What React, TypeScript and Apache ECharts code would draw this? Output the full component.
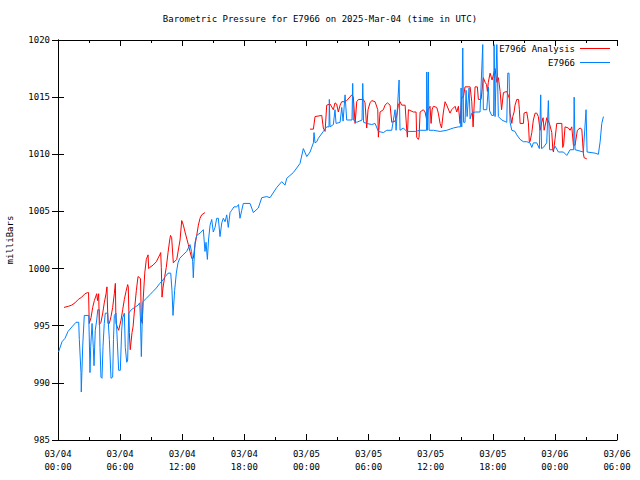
import React, { useEffect, useRef } from "react";
import * as echarts from "echarts";

// hours since 2025-03-04 00:00 UTC
const blueHours = [
  0.05, 0.39, 0.68, 0.97, 1.35, 1.74, 2.0, 2.06, 2.22, 2.25, 2.39, 2.54, 2.97, 3.02, 3.09, 3.16, 3.29, 3.35, 3.41, 3.48,
  3.6, 3.74, 3.84, 3.99, 4.06, 4.15, 4.25, 4.35, 4.47, 4.57, 4.8, 4.96, 5.12, 5.28, 5.36, 5.44, 5.6, 5.7, 5.86, 6.02,
  6.15, 6.25, 6.41, 6.5, 6.64, 6.73, 6.83, 7.08, 7.41, 7.73, 7.89, 7.97, 8.05, 8.12, 8.21, 8.53, 8.86, 9.18, 9.5, 9.83,
  10.14, 10.37, 10.63, 10.89, 11.01, 11.11, 11.27, 11.43, 11.59, 11.76, 12.08, 12.43, 12.59, 12.75, 12.9, 13.01, 13.07, 13.14, 13.24, 13.4,
  13.72, 14.04, 14.2, 14.3, 14.43, 14.54, 14.69, 14.85, 15.0, 15.17, 15.33, 15.49, 15.65, 15.82, 15.97, 16.14, 16.3, 16.45, 16.62, 16.78,
  17.0, 17.27, 17.44, 17.58, 17.75, 17.9, 18.55, 18.87, 19.35, 19.68, 20.16, 20.48, 21.13, 21.61, 21.93, 22.1, 22.73, 23.06, 23.38, 23.7,
  24.03, 24.35, 24.67, 24.73, 24.83, 25.0, 25.15, 25.63, 25.96, 26.18, 26.21, 26.28, 26.6, 26.76, 26.86, 27.25, 27.41, 27.54, 27.73, 27.89,
  28.4, 28.47, 28.53, 28.86, 29.37, 29.44, 29.52, 29.82, 30.31, 30.63, 30.95, 31.43, 31.76, 32.24, 32.56, 32.66, 32.95, 33.04, 33.36, 33.69,
  34.49, 34.98, 35.6, 35.62, 35.7, 35.78, 35.85, 36.26, 36.91, 37.55, 38.19, 38.68, 38.89, 38.94, 39.0, 39.1, 39.18, 39.32, 39.42, 39.52,
  39.71, 39.81, 39.97, 40.29, 40.77, 41.03, 41.09, 41.42, 41.57, 41.69, 41.9, 42.08, 42.13, 42.22, 42.39, 42.54, 42.87, 43.35, 43.38, 43.45,
  43.57, 43.67, 43.84, 44.15, 44.32, 44.64, 44.96, 45.28, 45.6, 45.77, 45.92, 46.25, 46.5, 46.63, 46.71, 46.89, 47.21, 47.37, 47.49, 47.86,
  48.02, 48.34, 48.82, 49.15, 49.47, 49.81, 49.86, 49.95, 50.75, 51.01, 51.11, 51.88, 52.2, 52.37, 52.53, 52.69,
];
const blueValues = [
  992.7, 993.6, 993.9, 994.5, 994.9, 995.3, 995.3, 993.8, 990.9, 989.2, 993.3, 995.9, 995.9, 994.0, 990.9, 993.2, 995.2, 995.2, 993.1, 991.5,
  994.6, 995.5, 996.4, 996.4, 993.1, 990.5, 990.4, 993.2, 995.2, 996.1, 996.1, 993.8, 990.4, 990.5, 993.8, 995.9, 996.1, 994.2, 991.1, 991.1,
  994.6, 995.7, 996.1, 993.1, 991.8, 992.0, 996.1, 996.4, 996.6, 996.8, 997.0, 995.5, 992.3, 994.9, 997.1, 997.4, 997.7, 998.0, 998.3, 998.7,
  999.0, 999.3, 999.6, 999.6, 998.1, 995.9, 998.1, 999.6, 1000.5, 1000.9, 1001.2, 1001.5, 1001.8, 1002.1, 1001.5, 1000.6, 999.2, 1000.6, 1002.3, 1002.9,
  1003.1, 1003.4, 1001.5, 1002.3, 1000.8, 1002.5, 1003.8, 1004.3, 1003.2, 1003.6, 1004.4, 1004.4, 1002.8, 1004.0, 1004.4, 1004.1, 1004.7, 1003.6, 1004.9, 1005.1,
  1005.4, 1005.4, 1005.6, 1004.4, 1005.1, 1005.7, 1005.7, 1004.9, 1005.3, 1006.2, 1006.3, 1006.2, 1007.1, 1007.6, 1007.3, 1007.9, 1008.4, 1008.8, 1009.2, 1010.5,
  1009.8, 1010.2, 1011.0, 1011.9, 1011.0, 1011.1, 1011.4, 1012.0, 1012.4, 1012.4, 1014.8, 1012.4, 1012.6, 1013.9, 1012.7, 1012.8, 1014.1, 1012.9, 1015.2, 1013.0,
  1013.0, 1016.2, 1013.0, 1012.8, 1013.0, 1016.2, 1012.8, 1012.7, 1012.6, 1012.7, 1012.0, 1011.9, 1012.1, 1012.1, 1013.9, 1012.1, 1016.5, 1012.1, 1012.3, 1012.0,
  1012.0, 1012.1, 1012.1, 1017.2, 1012.1, 1017.2, 1012.1, 1012.1, 1012.0, 1012.1, 1012.3, 1012.4, 1012.4, 1015.8, 1012.4, 1019.3, 1012.8, 1012.8, 1015.6, 1013.3,
  1015.8, 1013.1, 1013.6, 1013.7, 1013.7, 1019.6, 1013.9, 1013.9, 1015.9, 1013.8, 1013.4, 1013.4, 1019.6, 1013.3, 1019.6, 1013.3, 1013.0, 1012.8, 1012.8, 1017.1,
  1017.1, 1012.8, 1012.1, 1012.0, 1011.7, 1011.3, 1011.1, 1011.1, 1011.0, 1010.6, 1011.0, 1011.0, 1010.5, 1015.2, 1010.5, 1010.6, 1011.0, 1014.7, 1010.4, 1010.4,
  1010.7, 1010.2, 1010.2, 1009.9, 1010.4, 1010.4, 1015.0, 1010.4, 1010.2, 1013.9, 1010.2, 1010.1, 1010.0, 1011.1, 1012.7, 1013.3,
];

const redHours1 = [
  0.58, 1.0, 1.32, 1.64, 1.96, 2.29, 2.61, 2.87, 2.95, 3.02, 3.19, 3.35, 3.51, 3.74, 3.82, 3.93, 3.99, 4.15, 4.32, 4.47,
  4.64, 4.73, 4.83, 4.96, 5.12, 5.28, 5.44, 5.54, 5.6, 5.77, 5.86, 6.09, 6.25, 6.41, 6.57, 6.73, 6.79, 6.89, 6.98, 7.02,
  7.15, 7.25, 7.41, 7.57, 7.73, 7.89, 7.97, 8.05, 8.14, 8.21, 8.38, 8.53, 8.7, 8.76, 8.86, 9.18, 9.5, 9.83, 9.92, 9.98,
  10.05, 10.14, 10.31, 10.46, 10.63, 10.79, 10.87, 10.98, 11.14, 11.47, 11.79, 11.95, 12.11, 12.27, 12.59, 12.75, 12.92, 13.07, 13.24, 13.4,
  13.56, 13.72, 13.88, 14.2,
];
const redValues1 = [
  996.6, 996.7, 996.8, 997.0, 997.3, 997.5, 997.8, 997.9, 997.9, 995.2, 995.7, 996.6, 997.2, 997.8, 997.2, 997.8, 995.1, 995.3, 996.1, 997.0,
  997.8, 998.4, 995.2, 995.2, 995.8, 996.6, 997.8, 998.7, 995.2, 994.8, 994.6, 995.5, 996.4, 997.3, 998.0, 998.6, 998.4, 994.4, 992.9, 992.9,
  994.4, 994.9, 996.6, 998.1, 999.3, 999.2, 999.1, 995.5, 995.2, 997.0, 999.6, 1000.8, 1001.2, 1000.0, 1000.1, 1000.3, 1000.6, 1001.2, 1001.4, 1000.1,
  997.5, 998.3, 999.3, 1000.1, 1001.4, 1002.5, 1002.9, 1002.7, 1000.5, 1000.8, 1002.5, 1004.2, 1003.8, 1003.2, 1002.1, 1001.5, 1000.9, 1000.9, 1002.1, 1002.9,
  1003.8, 1004.4, 1004.7, 1004.9,
];
const redHours2 = [
  24.35, 24.67, 24.83, 25.48, 25.63, 25.8, 25.96, 26.28, 26.6, 26.76, 26.92, 27.08, 27.25, 27.41, 27.73, 27.89, 28.38, 28.53, 28.7, 28.86,
  29.02, 29.5, 29.66, 29.82, 29.95, 30.14, 30.31, 30.63, 30.89, 30.95, 31.11, 31.43, 31.59, 31.82, 32.08, 32.24, 32.56, 32.72, 32.88, 33.04,
  33.2, 33.53, 33.69, 33.75, 33.85, 34.33, 34.59, 34.65, 34.81, 34.88, 34.98, 35.29, 35.46, 35.62, 35.75, 35.94, 36.04, 36.14, 36.26, 36.59,
  36.74, 36.91, 37.05, 37.23, 37.39, 37.55, 37.87, 38.03, 38.36, 38.52, 38.68, 38.84, 39.0, 39.16, 39.32, 39.81, 39.97, 40.1, 40.29, 40.51,
  40.61, 40.87, 41.09, 41.26, 41.4, 41.48, 41.57, 41.74, 41.93, 42.22, 42.39, 42.54, 42.71, 42.85, 43.03, 43.35, 43.6, 43.67, 43.84, 43.93,
  44.06, 44.15, 44.32, 44.49, 44.57, 44.64, 44.96, 45.02, 45.28, 45.44, 45.53, 45.6, 45.77, 45.92, 46.09, 46.25, 46.4, 46.57, 46.73, 46.86,
  46.96, 47.22, 47.47, 47.7, 47.8, 47.86, 48.02, 48.18, 48.67, 48.76, 48.84, 48.98, 49.3, 49.47, 49.63, 49.79, 49.95, 50.17, 50.43, 50.6,
  50.75, 50.82, 51.08,
];
const redValues2 = [
  1012.2, 1012.2, 1013.3, 1013.4, 1012.3, 1012.0, 1014.3, 1014.4, 1013.9, 1014.5, 1014.4, 1013.7, 1014.3, 1014.6, 1014.6, 1014.7, 1015.2, 1015.0, 1012.7, 1014.6,
  1014.8, 1014.8, 1014.5, 1012.3, 1013.9, 1014.5, 1014.7, 1014.6, 1013.9, 1011.5, 1013.7, 1013.9, 1014.3, 1014.5, 1014.3, 1012.8, 1012.9, 1013.4, 1014.3, 1014.6,
  1014.3, 1014.3, 1012.1, 1011.5, 1013.9, 1013.7, 1013.7, 1011.5, 1011.3, 1011.5, 1013.7, 1013.9, 1013.7, 1013.0, 1013.9, 1014.2, 1012.7, 1013.9, 1014.2, 1014.1,
  1013.6, 1012.7, 1012.3, 1013.7, 1014.6, 1014.3, 1013.6, 1013.9, 1014.2, 1013.7, 1014.2, 1012.7, 1015.0, 1015.0, 1015.9, 1015.9, 1014.6, 1012.4, 1015.9, 1015.9,
  1014.8, 1014.8, 1016.7, 1016.3, 1016.1, 1015.5, 1016.3, 1017.1, 1016.5, 1017.5, 1016.3, 1016.7, 1015.5, 1013.9, 1015.4, 1015.5, 1014.9, 1013.6, 1012.7, 1013.3,
  1013.7, 1014.3, 1014.8, 1014.8, 1013.9, 1012.7, 1012.7, 1013.6, 1013.7, 1012.8, 1011.1, 1011.1, 1011.9, 1013.0, 1013.6, 1013.6, 1013.3, 1012.1, 1012.8, 1013.2,
  1012.1, 1013.2, 1012.7, 1011.9, 1010.4, 1010.2, 1011.4, 1012.7, 1012.7, 1010.6, 1010.8, 1012.4, 1012.3, 1012.1, 1012.4, 1010.8, 1010.8, 1012.1, 1012.3, 1012.2,
  1010.1, 1009.7, 1009.6,
];

const xTickHours = [0, 6, 12, 18, 24, 30, 36, 42, 48, 54];
const yTicks = [985, 990, 995, 1000, 1005, 1010, 1015, 1020];

const FONT = "DejaVu Sans Mono";

function hourLabel(h: number): string {
  const day = 4 + Math.floor(h / 24);
  const hh = h % 24;
  return `03/${String(day).padStart(2, "0")}\n${String(hh).padStart(2, "0")}:00`;
}

export default function App() {
  const ref = useRef<HTMLDivElement>(null);
  useEffect(() => {
    if (!ref.current) return;
    const chart = echarts.init(ref.current, undefined, { renderer: "svg" });
    const blueData = blueHours.map((h, i) => [h, blueValues[i]]);
    const redData: any[] = [
      ...redHours1.map((h, i) => [h, redValues1[i]]),
      [19, "-"],
      ...redHours2.map((h, i) => [h, redValues2[i]]),
    ];
    const xMin = xTickHours[0];
    const xMax = xTickHours[xTickHours.length - 1];
    const yMin = yTicks[0];
    const yMax = yTicks[yTicks.length - 1];
    const textStyle = { fontFamily: FONT, fontSize: 9, color: "#000" };
    const axisCommon = {
      axisLine: { show: true, lineStyle: { color: "#000", width: 1 } },
      splitLine: { show: false },
    };
    const tick = { show: true, inside: true, length: 6, lineStyle: { color: "#000" } };
    chart.setOption({
      animation: false,
      backgroundColor: "#fff",
      title: {
        text: "Barometric Pressure for E7966 on 2025-Mar-04 (time in UTC)",
        left: "center",
        top: 14,
        padding: 0,
        textStyle: { ...textStyle, fontWeight: "normal" },
      },
      legend: [
        {
          data: ["E7966 Analysis"],
          right: 30,
          top: 44,
          padding: 0,
          align: "right",
          icon: "rect",
          itemWidth: 30,
          itemHeight: 1,
          textStyle: { ...textStyle },
        },
        {
          data: ["E7966"],
          right: 30,
          top: 58,
          padding: 0,
          align: "right",
          icon: "rect",
          itemWidth: 30,
          itemHeight: 1,
          textStyle: { ...textStyle },
        },
      ],
      grid: { left: 58, right: 23, top: 40, bottom: 40, outerBoundsMode: "none", containLabel: false },
      xAxis: [
        {
          type: "value",
          min: xMin,
          max: xMax,
          interval: 6,
          position: "bottom",
          ...axisCommon,
          axisTick: tick,
          minorTick: { show: true, splitNumber: 2, length: 3, lineStyle: { color: "#000" } },
          axisLabel: { ...textStyle, margin: 7, lineHeight: 13, formatter: (v: number) => hourLabel(v) },
        },
        {
          type: "value",
          min: xMin,
          max: xMax,
          interval: 6,
          position: "top",
          ...axisCommon,
          axisTick: tick,
          minorTick: { show: true, splitNumber: 2, length: 3, lineStyle: { color: "#000" } },
          axisLabel: { show: false },
        },
      ],
      yAxis: [
        {
          type: "value",
          min: yMin,
          max: yMax,
          interval: 5,
          position: "left",
          name: "milliBars",
          nameLocation: "middle",
          nameGap: 44,
          nameRotate: 90,
          nameTextStyle: textStyle,
          ...axisCommon,
          axisTick: tick,
          axisLabel: { ...textStyle, margin: 8, formatter: (v: number) => String(v) },
        },
        {
          type: "value",
          min: yMin,
          max: yMax,
          interval: 5,
          position: "right",
          ...axisCommon,
          axisTick: tick,
          axisLabel: { show: false },
        },
      ],
      series: [
        {
          name: "E7966 Analysis",
          type: "line",
          data: redData,
          showSymbol: false,
          connectNulls: false,
          color: "#ff0000",
          lineStyle: { width: 1, color: "#ff0000" },
        },
        {
          name: "E7966",
          type: "line",
          data: blueData,
          showSymbol: false,
          color: "#0080ff",
          lineStyle: { width: 1, color: "#0080ff" },
        },
      ],
    });
    return () => chart.dispose();
  }, []);
  return <div ref={ref} style={{ width: 640, height: 480, position: "absolute", left: 0, top: 0 }} />;
}
